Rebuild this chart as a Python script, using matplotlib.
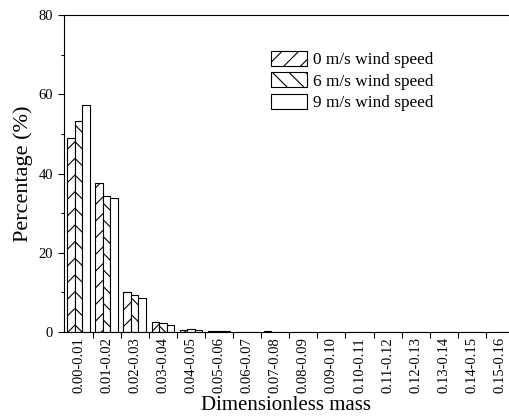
import numpy as np
import matplotlib.pyplot as plt

plt.rcParams['font.family'] = ['Liberation Serif', 'DejaVu Serif']
plt.rcParams['hatch.linewidth'] = 0.8

# mass bins
bins = ['0.00-0.01', '0.01-0.02', '0.02-0.03', '0.03-0.04', '0.04-0.05',
        '0.05-0.06', '0.06-0.07', '0.07-0.08', '0.08-0.09', '0.09-0.10',
        '0.10-0.11', '0.11-0.12', '0.12-0.13', '0.13-0.14', '0.14-0.15',
        '0.15-0.16']

# percentages
wind_0 = [49.1, 37.7, 10.1, 2.5, 0.5, 0.2, 0.05, 0.1, 0.05, 0.03, 0.02, 0.02, 0.02, 0.01, 0.01, 0.01]
wind_6 = [53.2, 34.4, 9.2, 2.1, 0.7, 0.2, 0.05, 0.05, 0.03, 0.02, 0.02, 0.01, 0.01, 0.01, 0.01, 0.01]
wind_9 = [57.3, 33.9, 8.4, 1.8, 0.5, 0.1, 0.03, 0.05, 0.03, 0.02, 0.01, 0.01, 0.01, 0.01, 0.01, 0.01]

series = [wind_0, wind_6, wind_9]
names = ['0 m/s wind speed', '6 m/s wind speed', '9 m/s wind speed']
hatches = ['//', '\\\\', '']

fig = plt.figure(figsize=(5.09, 4.17), dpi=100)
ax = fig.add_axes([0.1248, 0.2045, 0.8752, 0.7588])

x = np.arange(len(bins))
w = 0.8 / 3
for i, (vals, name, h) in enumerate(zip(series, names, hatches)):
    ax.bar(x + (i - 1) * w, vals, w, facecolor='white', edgecolor='black',
           linewidth=0.8, hatch=h, label=name)

ax.set_xlim(-0.534, 15.32)
ax.set_ylim(0, 80)
ax.set_yticks([0, 20, 40, 60, 80])
ax.set_yticks([10, 30, 50, 70], minor=True)
ax.set_xticks(x)
ax.set_xticklabels(bins, rotation=90, fontsize=10.5)
ax.set_xticks(x[:-1] + 0.5, minor=True)
ax.tick_params(axis='x', which='major', length=0, pad=4)
ax.tick_params(axis='x', which='minor', length=4, direction='out', width=0.8)
ax.tick_params(axis='y', which='major', length=4, width=0.8, labelsize=10.5)
ax.tick_params(axis='y', which='minor', length=2.5, width=0.8)
ax.spines['right'].set_visible(False)

ax.set_xlabel('Dimensionless mass', fontsize=15, labelpad=2)
ax.set_ylabel('Percentage (%)', fontsize=16, labelpad=4)

ax.legend(loc='upper left', bbox_to_anchor=(0.447, 0.915), frameon=False,
          fontsize=12.4, handlelength=2.1, handleheight=0.95, labelspacing=0.25,
          handletextpad=0.3, borderpad=0)

fig.savefig('out.png', dpi=100)
